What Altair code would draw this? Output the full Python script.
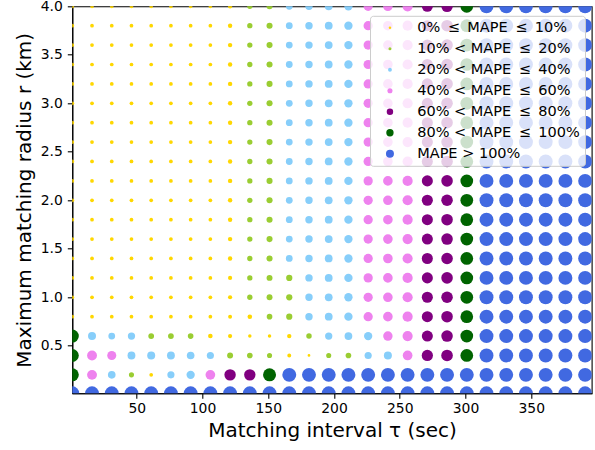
import altair as alt
import pandas as pd

# Grid of matching settings
tau = [1, 16, 31, 46, 61, 76, 91, 106, 121, 136, 151, 166, 181, 196,
       211, 226, 241, 256, 271, 286, 301, 316, 331, 346, 361, 376, 391]
radius = [0.01, 0.2, 0.4, 0.6, 0.8, 1.0, 1.2, 1.4, 1.6, 1.8, 2.0,
          2.2, 2.4, 2.6, 2.8, 3.0, 3.2, 3.4, 3.6, 3.8, 4.0]

# MAPE (%) for each radius, one value per tau column
mape_r0_01 = [150, 150, 150, 150, 150, 150, 150, 150, 150, 150, 150, 150, 150, 150,
              150, 150, 150, 150, 150, 150, 150, 150, 150, 150, 150, 150, 150]
mape_r0_2 = [92, 52, 30, 12, 5, 26, 36, 50, 70, 70, 92, 150, 150, 150,
             150, 150, 150, 150, 150, 150, 150, 150, 150, 150, 150, 150, 150]
mape_r0_4 = [92, 52, 43, 32, 33, 32, 30, 26, 17, 15, 12, 6, 1.5, 12,
             15, 26, 33, 50, 68, 73, 88, 150, 150, 150, 150, 150, 150]
mape_r0_6 = [92, 33, 23, 27, 16, 16, 15, 9, 7, 4, 4, 8, 14, 27,
             31, 36, 47, 55, 66, 72, 88, 150, 150, 150, 150, 150, 150]
mape_r0_8 = [5, 5, 5, 5, 5, 5, 5, 5, 6, 9, 15, 19, 28, 31,
             36, 45, 49, 55, 66, 72, 88, 150, 150, 150, 150, 150, 150]
mape_r1_0 = [5, 5, 5, 5, 5, 5, 5, 5, 7, 13, 17, 19, 28, 31,
             36, 45, 49, 55, 66, 72, 88, 150, 150, 150, 150, 150, 150]
mape_r1_2 = [5, 5, 5, 5, 5, 5, 5, 5, 7, 13, 17, 19, 28, 31,
             36, 45, 49, 55, 66, 72, 88, 150, 150, 150, 150, 150, 150]
mape_r1_4 = [5, 5, 5, 5, 5, 5, 5, 5, 8, 13, 18, 23, 28, 31,
             36, 45, 49, 55, 66, 72, 88, 150, 150, 150, 150, 150, 150]
mape_r1_6 = [5, 5, 5, 5, 5, 5, 5, 5, 8, 13, 18, 23, 28, 31,
             36, 45, 49, 55, 66, 72, 88, 150, 150, 150, 150, 150, 150]
mape_r1_8 = [5, 5, 5, 5, 5, 5, 5, 5, 8, 13, 18, 23, 28, 31,
             36, 45, 49, 55, 66, 72, 88, 150, 150, 150, 150, 150, 150]
mape_r2_0 = [5, 5, 5, 5, 5, 5, 5, 5, 8, 13, 18, 23, 28, 31,
             36, 45, 49, 55, 66, 72, 88, 150, 150, 150, 150, 150, 150]
mape_r2_2 = [5, 5, 5, 5, 5, 5, 5, 5, 8, 13, 18, 23, 28, 31,
             36, 45, 49, 55, 66, 72, 88, 150, 150, 150, 150, 150, 150]
mape_r2_4 = [5, 5, 5, 5, 5, 5, 5, 5, 8, 13, 18, 23, 28, 31,
             36, 45, 49, 55, 66, 72, 88, 150, 150, 150, 150, 150, 150]
mape_r2_6 = [5, 5, 5, 5, 5, 5, 5, 5, 8, 13, 18, 23, 28, 31,
             36, 45, 49, 55, 66, 72, 88, 150, 150, 150, 150, 150, 150]
mape_r2_8 = [5, 5, 5, 5, 5, 5, 5, 5, 8, 13, 18, 23, 28, 31,
             36, 45, 49, 55, 66, 72, 88, 150, 150, 150, 150, 150, 150]
mape_r3_0 = [5, 5, 5, 5, 5, 5, 5, 5, 8, 13, 18, 23, 28, 31,
             36, 45, 49, 55, 66, 72, 88, 150, 150, 150, 150, 150, 150]
mape_r3_2 = [5, 5, 5, 5, 5, 5, 5, 5, 8, 13, 18, 23, 28, 31,
             36, 45, 49, 55, 66, 72, 88, 150, 150, 150, 150, 150, 150]
mape_r3_4 = [5, 5, 5, 5, 5, 5, 5, 5, 8, 13, 18, 23, 28, 31,
             36, 45, 49, 55, 66, 72, 88, 150, 150, 150, 150, 150, 150]
mape_r3_6 = [5, 5, 5, 5, 5, 5, 5, 5, 8, 13, 18, 23, 28, 31,
             36, 45, 49, 55, 66, 72, 88, 150, 150, 150, 150, 150, 150]
mape_r3_8 = [5, 5, 5, 5, 5, 5, 5, 5, 8, 13, 18, 23, 28, 31,
             36, 45, 49, 55, 66, 72, 88, 150, 150, 150, 150, 150, 150]
mape_r4_0 = [5, 5, 5, 5, 5, 5, 5, 5, 8, 13, 18, 23, 28, 31,
             36, 45, 49, 55, 66, 72, 88, 150, 150, 150, 150, 150, 150]

mape_rows = [mape_r0_01, mape_r0_2, mape_r0_4, mape_r0_6, mape_r0_8, mape_r1_0,
             mape_r1_2, mape_r1_4, mape_r1_6, mape_r1_8, mape_r2_0, mape_r2_2,
             mape_r2_4, mape_r2_6, mape_r2_8, mape_r3_0, mape_r3_2, mape_r3_4,
             mape_r3_6, mape_r3_8, mape_r4_0]

# Error bands
T = "\u2009"
band_upper = [10, 20, 40, 60, 80, 100]
band_labels = [
    f"0%{T} \u2264 {T}MAPE{T} \u2264 {T}10%",
    f"10% < MAPE{T} \u2264 {T}20%",
    f"20% < MAPE{T} \u2264 {T}40%",
    f"40% < MAPE{T} \u2264 {T}60%",
    f"60% < MAPE{T} \u2264 {T}80%",
    f"80% < MAPE{T} \u2264 {T}100%",
    "MAPE > 100%",
]
band_colors = ["gold", "yellowgreen", "lightskyblue", "violet",
               "purple", "darkgreen", "royalblue"]
legend_sizes = [6, 9, 15, 26, 42, 54, 64]


def band_of(v):
    for i, hi in enumerate(band_upper):
        if v <= hi:
            return band_labels[i]
    return band_labels[-1]


records = []
for r, row in zip(radius, mape_rows):
    for t, v in zip(tau, row):
        records.append({"tau": t, "radius": r, "mape": v, "band": band_of(v)})
df = pd.DataFrame(records)

font = "DejaVu Sans"
size_list = "[" + ",".join(str(s) for s in legend_sizes) + "]"
size_expr = (f"(datum && isNumber(datum.index)) ? {size_list}[datum.index] "
             f": {max(legend_sizes)}")

chart = alt.Chart(df).mark_circle(opacity=1, clip=True).encode(
    x=alt.X("tau:Q",
            scale=alt.Scale(domain=[1, 396], nice=False, zero=False),
            axis=alt.Axis(values=[50, 100, 150, 200, 250, 300, 350],
                          title="Matching interval \u03c4 (sec)")),
    y=alt.Y("radius:Q",
            scale=alt.Scale(domain=[0.01, 4.0], nice=False, zero=False),
            axis=alt.Axis(values=[0.5, 1.0, 1.5, 2.0, 2.5, 3.0, 3.5, 4.0],
                          format=".1f", labelPadding=5,
                          title="Maximum matching radius r (km)",
                          titlePadding=6)),
    color=alt.Color("band:N",
                    scale=alt.Scale(domain=band_labels, range=band_colors),
                    legend=alt.Legend(
                        title=None, orient="none", legendX=297.7, legendY=9.5,
                        labelFont=font, labelFontSize=14.5, labelColor="black",
                        labelLimit=400,
                        fillColor="rgba(255,255,255,0.8)", strokeColor="#cccccc",
                        cornerRadius=3, padding=4.7, rowPadding=6.0,
                        symbolType="circle", symbolSize=alt.ExprRef(expr=size_expr),
                        symbolStrokeWidth=0, symbolOpacity=1,
                        symbolOffset=8, labelOffset=20)),
    size=alt.Size("mape:Q",
                  scale=alt.Scale(domain=[0, 106], range=[5, 194], clamp=True),
                  legend=None),
    order=alt.Order("mape:Q"),
).properties(
    width=519.4, height=387,
    autosize=alt.AutoSizeParams(type="none"),
    padding={"left": 72.3, "top": 6.3, "right": 3.3, "bottom": 56.7},
).configure_view(
    stroke="black", strokeWidth=1.1,
).configure_axis(
    grid=False, domainColor="black", tickColor="black", domainWidth=1.1,
    tickWidth=1.1, tickSize=5, labelColor="black", labelFont=font,
    labelFontSize=13.9, labelPadding=3.5, titleFont=font, titleFontSize=20,
    titleFontWeight="normal", titleColor="black", titlePadding=5,
)

chart.save("out.html", embed_options={"renderer": "svg", "actions": False})
